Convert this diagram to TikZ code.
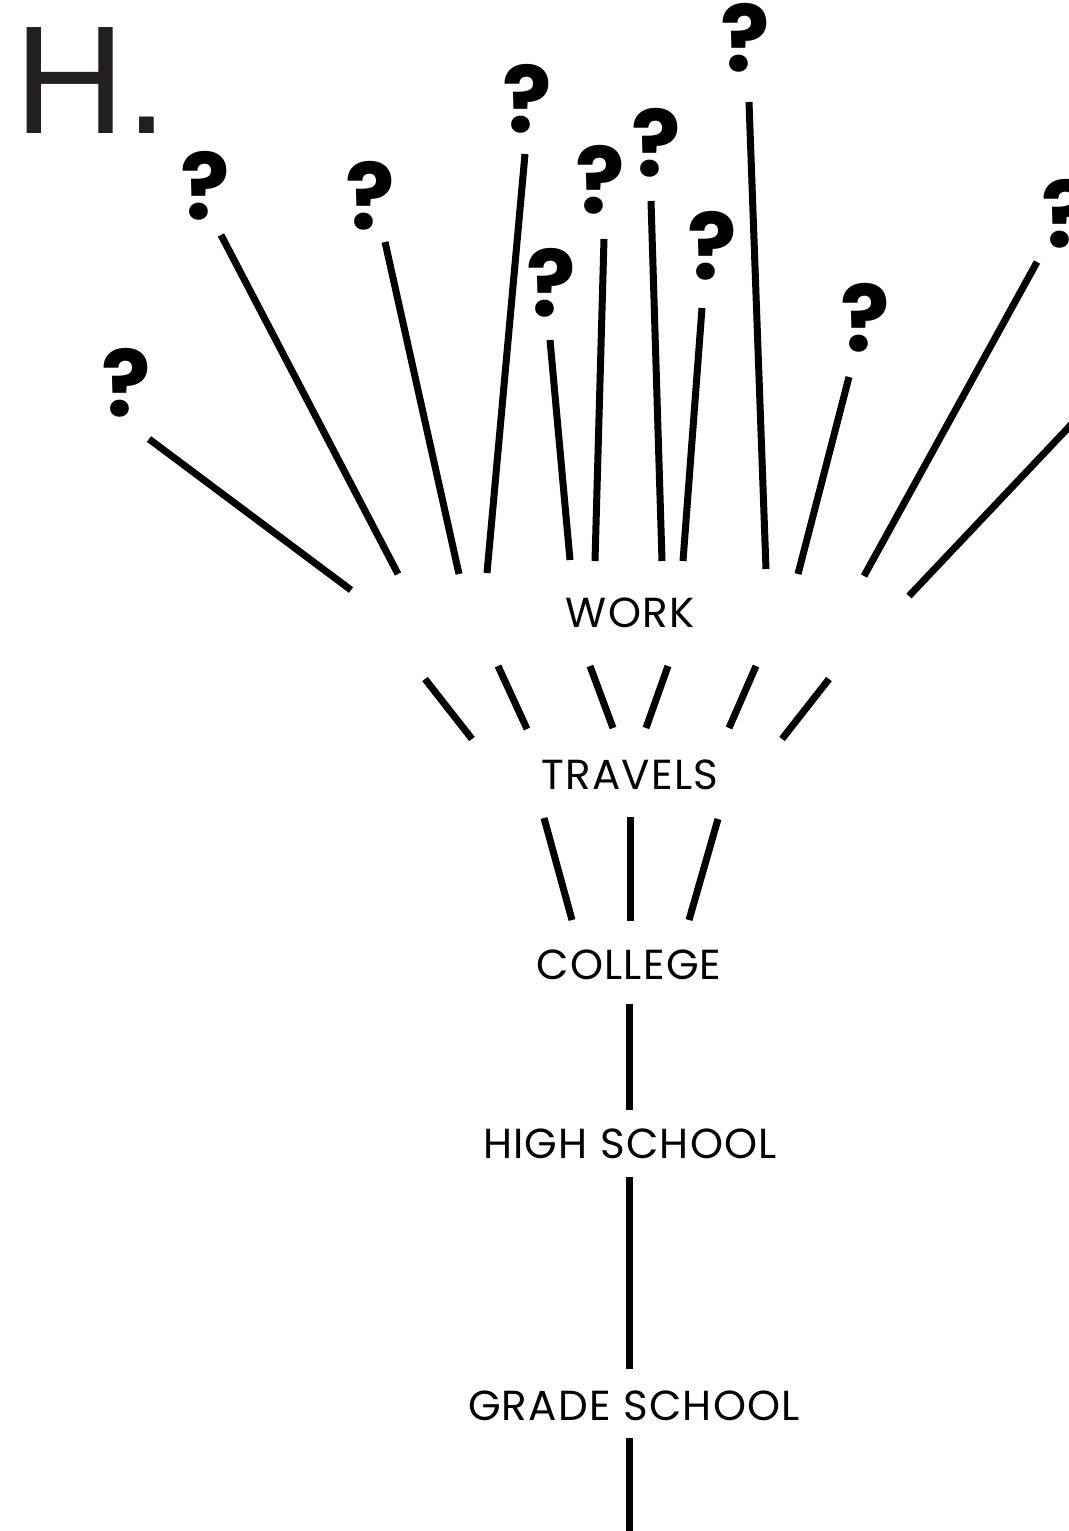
\documentclass[tikz,border=0pt]{standalone}
\usepackage{fontspec}
\setmainfont{Poppins}
\newfontfamily\headfont{Liberation Sans}
\newfontfamily\stagefont{Poppins}[LetterSpace=3]
\usetikzlibrary{positioning}
\definecolor{hgray}{RGB}{35,31,32}

\begin{document}
\begin{tikzpicture}[x=0.5pt,y=-0.5pt,
    stage/.style={font=\stagefont\fontsize{21}{24}\selectfont,inner sep=0pt},
    qmark/.style={font=\fontsize{46}{50}\selectfont\bfseries,inner sep=0pt},
    stem/.style={line width=3.5pt}]
  \clip (0,0) rectangle (1069,1531);
  \node[anchor=base west,inner sep=0pt,text=hgray,font=\headfont\fontsize{77}{80}\selectfont] (title) at (14,133) {H.};

  % life stages
  \node[stage] (work) at (630,613) {WORK};
  \node[stage] (travels) at (630,775) {TRAVELS};
  \node[stage] (college) at (629,965) {COLLEGE};
  \node[stage] (high) at (630,1144) {HIGH SCHOOL};
  \node[stage] (grade) at (634,1406) {GRADE SCHOOL};

  % what comes next
  \node[qmark] (q1) at (126,383) {?};
  \node[qmark] (q2) at (205,186) {?};
  \node[qmark] (q3) at (370,196) {?};
  \node[qmark] (q4) at (527,99) {?};
  \node[qmark] (q5) at (551,283) {?};
  \node[qmark] (q6) at (600,180) {?};
  \node[qmark] (q7) at (656,143) {?};
  \node[qmark] (q8) at (712,246) {?};
  \node[qmark] (q9) at (745,38) {?};
  \node[qmark] (q10) at (865,318) {?};
  \node[qmark] (q11) at (1066,214) {?};

  % stems between work and the question marks
  \coordinate (t1) at (149,439);  \coordinate (b1) at (351,590);
  \coordinate (t2) at (221,235);  \coordinate (b2) at (398,574);
  \coordinate (t3) at (385,242);  \coordinate (b3) at (459,574);
  \coordinate (t4) at (525,154);  \coordinate (b4) at (487,573);
  \coordinate (t5) at (550,340);  \coordinate (b5) at (570,560);
  \coordinate (t6) at (604,239);  \coordinate (b6) at (595,561);
  \coordinate (t7) at (651,201);  \coordinate (b7) at (662,561);
  \coordinate (t8) at (702,308);  \coordinate (b8) at (683,561);
  \coordinate (t9) at (749,102);  \coordinate (b9) at (766,569);
  \coordinate (t10) at (849,377); \coordinate (b10) at (798,574);
  \coordinate (t11) at (1037,262); \coordinate (b11) at (864,576);
  \coordinate (t12) at (1085,410); \coordinate (b12) at (909,596);
  \draw[stem] (t1)--(b1);
  \draw[stem] (t2)--(b2);
  \draw[stem] (t3)--(b3);
  \draw[stem] (t4)--(b4);
  \draw[stem] (t5)--(b5);
  \draw[stem] (t6)--(b6);
  \draw[stem] (t7)--(b7);
  \draw[stem] (t8)--(b8);
  \draw[stem] (t9)--(b9);
  \draw[stem] (t10)--(b10);
  \draw[stem] (t11)--(b11);
  \draw[stem] (t12)--(b12);

  % travels to work
  \coordinate (ta) at (425,679); \coordinate (ba) at (472,739);
  \coordinate (tb) at (498,666); \coordinate (bb) at (527,729);
  \coordinate (tc) at (590,666); \coordinate (bc) at (613,728);
  \coordinate (td) at (668,666); \coordinate (bd) at (646,728);
  \coordinate (te) at (756,666); \coordinate (be) at (729,728);
  \coordinate (tf) at (829,679); \coordinate (bf) at (782,739);
  \draw[stem] (ta)--(ba);
  \draw[stem] (tb)--(bb);
  \draw[stem] (tc)--(bc);
  \draw[stem] (td)--(bd);
  \draw[stem] (te)--(be);
  \draw[stem] (tf)--(bf);

  % college to travels
  \coordinate (tg) at (544,818); \coordinate (bg) at (572,920);
  \coordinate (th) at (630,817); \coordinate (bh) at (630,921);
  \coordinate (ti) at (718,819); \coordinate (bi) at (689,920);
  \draw[stem] (tg)--(bg);
  \draw[stem] (th)--(bh);
  \draw[stem] (ti)--(bi);

  % the trunk
  \coordinate (c1) at (629,1004); \coordinate (c2) at (629,1110);
  \coordinate (c3) at (629,1177); \coordinate (c4) at (629,1369);
  \coordinate (c5) at (629,1438); \coordinate (c6) at (629,1540);
  \draw[stem] (c1)--(c2);
  \draw[stem] (c3)--(c4);
  \draw[stem] (c5)--(c6);
\end{tikzpicture}
\end{document}
